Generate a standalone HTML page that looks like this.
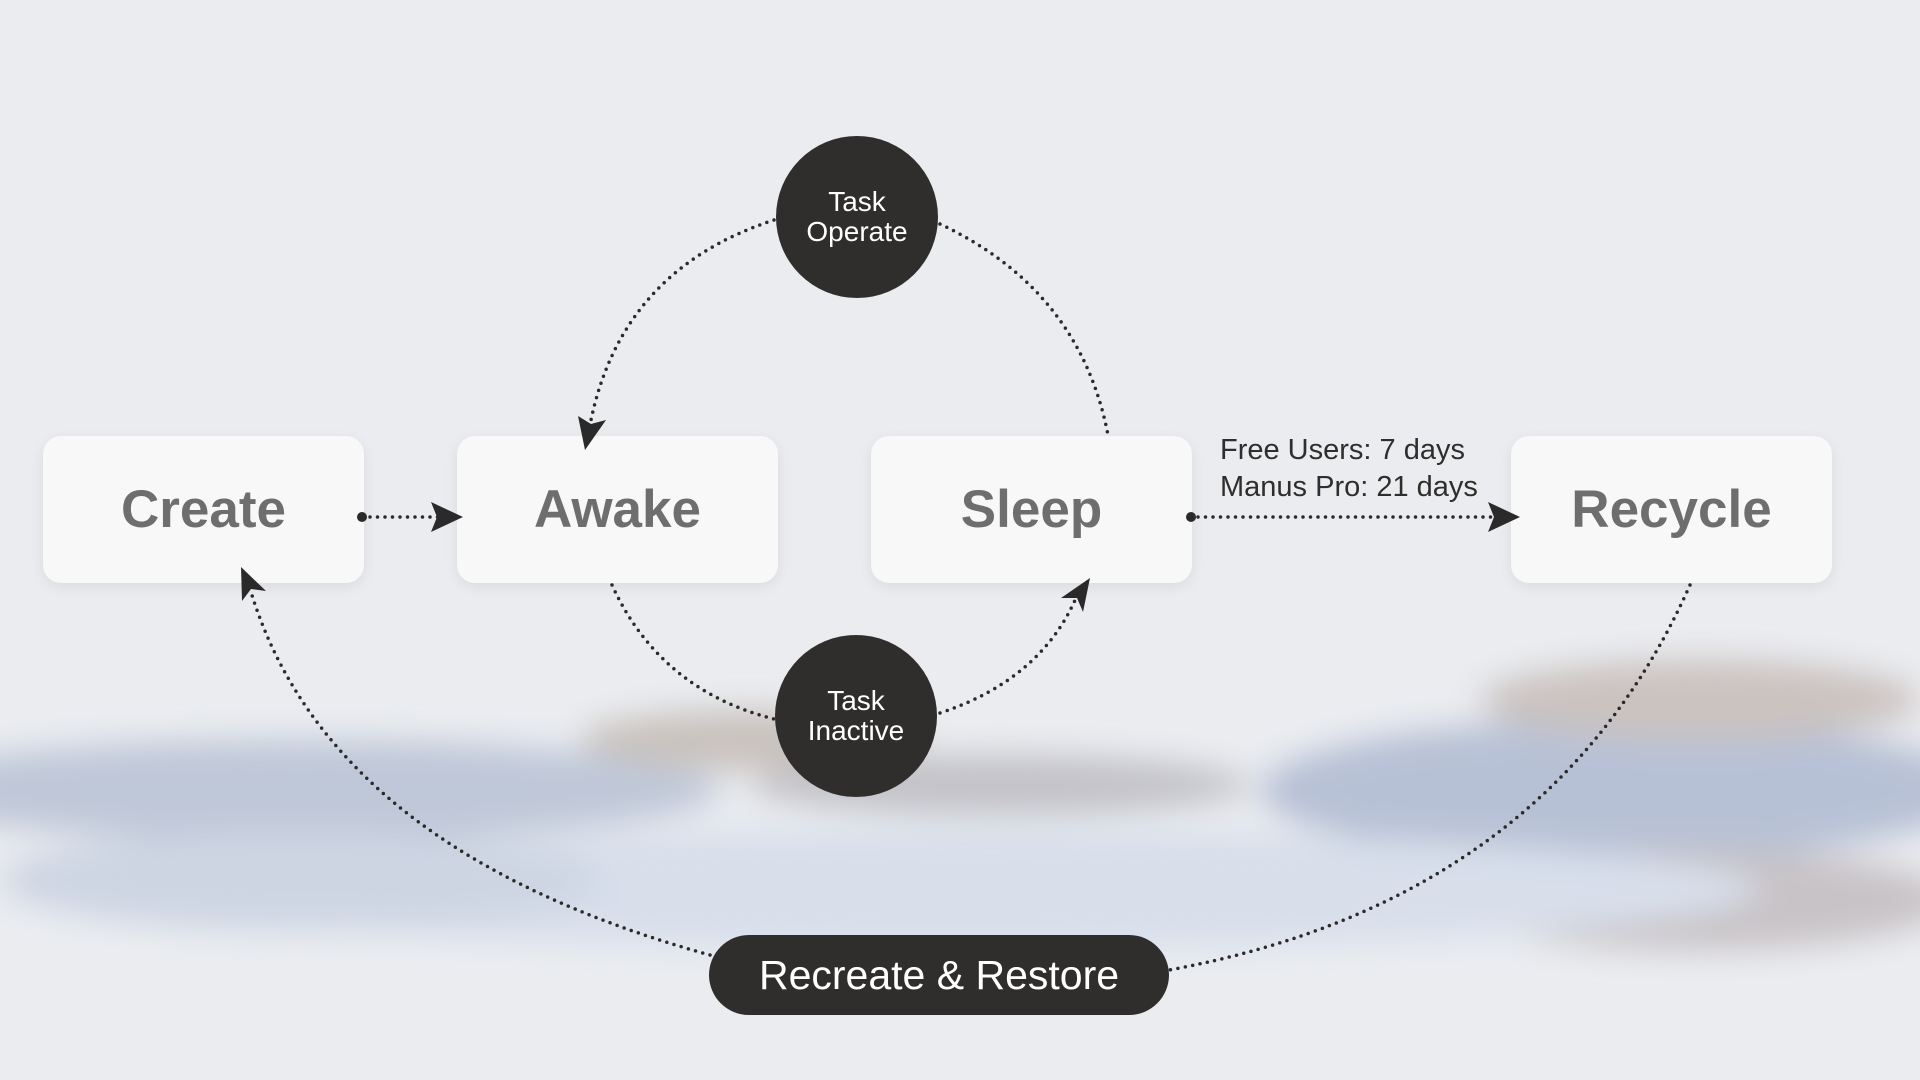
<!DOCTYPE html>
<html><head><meta charset="utf-8"><style>
html,body{margin:0;padding:0;width:1920px;height:1080px;overflow:hidden;}
body{background:#eaecf0;position:relative;font-family:"Liberation Sans",sans-serif;}
.bg{position:absolute;left:0;top:0;}
.fg{position:absolute;left:0;top:0;z-index:2;}
.box{position:absolute;top:436px;width:321px;height:147px;background:#f8f8f8;border-radius:18px;box-shadow:0 4px 14px rgba(0,0,0,0.07);display:flex;align-items:center;justify-content:center;font-weight:bold;font-size:53px;color:#6e6e6e;z-index:1;}
.circ{position:absolute;width:162px;height:162px;border-radius:50%;background:#2f2e2c;color:#fff;display:flex;align-items:center;justify-content:center;text-align:center;font-size:28px;line-height:30px;z-index:3;}
.pill{position:absolute;left:709px;top:935px;width:460px;height:80px;border-radius:40px;background:#2f2e2c;color:#fff;font-size:41px;display:flex;align-items:center;justify-content:center;z-index:3;}
.lbl{position:absolute;left:1220px;top:432px;font-size:29px;line-height:37px;color:#2f2e2c;}
</style></head><body>
<svg class="bg" width="1920" height="1080">
<defs>
<filter id="b" x="-20%" y="-50%" width="140%" height="200%"><feGaussianBlur stdDeviation="16"/></filter>
</defs>
<g filter="url(#b)">
<ellipse cx="300" cy="790" rx="420" ry="50" fill="#bfc8d8"/>
<ellipse cx="750" cy="740" rx="170" ry="30" fill="#c9c2bd"/>
<ellipse cx="1000" cy="785" rx="250" ry="30" fill="#c2c2c8"/>
<ellipse cx="1620" cy="790" rx="360" ry="70" fill="#b7c1d5"/>
<ellipse cx="1700" cy="700" rx="220" ry="40" fill="#cbc3c0"/>
<ellipse cx="1700" cy="900" rx="250" ry="50" fill="#c8c3c6"/>
<ellipse cx="960" cy="890" rx="800" ry="60" fill="#d8dfeb"/>
<ellipse cx="300" cy="880" rx="300" ry="50" fill="#cdd5e3"/>
</g>
</svg>
<svg class="fg" width="1920" height="1080">
<g fill="none" stroke="#2a2a2a" stroke-width="3.5" stroke-linecap="round" stroke-dasharray="0 7.5">
<path d="M370,517 L438,517"/>
<path d="M1198,517 L1496,517"/>
<path d="M774,220 Q 620,270 590,425"/>
<path d="M940,224 Q 1080,290 1108,435"/>
<path d="M612,585 Q 660,690 774,719"/>
<path d="M940,713 Q 1040,680 1076,598"/>
<path d="M1690,585 Q 1550,900 1169,970"/>
<path d="M710,955 Q 330,850 251,592"/>
</g>
<circle cx="362" cy="517" r="5" fill="#2a2a2a"/>
<circle cx="1191" cy="517" r="5" fill="#2a2a2a"/>
<g fill="#2a2a2a">
<polygon points="463,517 431,502 437,517 431,532"/>
<polygon points="1520,517 1488,502 1494,517 1488,532"/>
<polygon points="585,450 578,416 591,424 606,420"/>
<polygon points="1090,578 1083,612 1077,598 1061,598"/>
<polygon points="241,567 266,591 251,589 242,601"/>
</g>
</svg>
<div class="box" style="left:43px">Create</div>
<div class="box" style="left:457px">Awake</div>
<div class="box" style="left:871px">Sleep</div>
<div class="box" style="left:1511px">Recycle</div>
<div class="circ" style="left:776px;top:136px">Task<br>Operate</div>
<div class="circ" style="left:775px;top:635px">Task<br>Inactive</div>
<div class="pill">Recreate &amp; Restore</div>
<div class="lbl">Free Users: 7 days<br>Manus Pro: 21 days</div>
</body></html>
